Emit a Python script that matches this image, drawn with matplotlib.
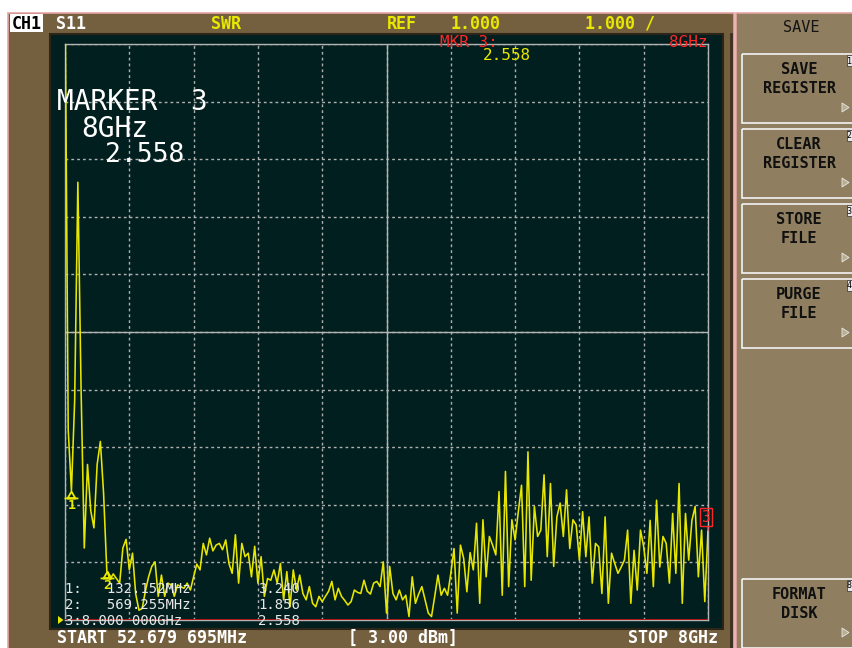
import numpy as np
import matplotlib.pyplot as plt
from matplotlib.patches import Rectangle, Polygon
from matplotlib.path import Path

# sweep setup
start_ghz = 0.052679695
stop_ghz = 8.0
n_points = 201
ref_swr = 1.0
swr_per_div = 1.0

# S11 SWR trace, one value per sweep point
swr = [
    12.0, 4.3, 3.24, 4.8, 8.6, 5.0, 2.25, 3.7, 2.9, 2.6, 3.7, 4.1, 3.2, 1.856,
    1.70, 1.80, 1.72, 1.64, 2.25, 2.40, 1.87,
    2.16, 1.45, 1.17, 1.20, 1.50, 1.75, 1.93, 2.01, 1.41, 1.78,
    1.41, 1.64, 1.61, 1.41, 1.61, 1.58, 1.55, 1.64, 1.52, 1.75,
    1.97, 1.87, 2.33, 2.13, 2.42, 2.20, 2.30, 2.33, 2.22, 2.39,
    1.98, 1.81, 2.48, 1.64, 2.33, 2.10, 2.16, 1.75, 2.28, 1.64,
    2.10, 1.41, 1.72, 1.69, 1.87, 1.64, 1.98, 1.35, 1.84, 1.23,
    1.87, 1.52, 1.78, 1.46, 1.35, 1.58, 1.29, 1.23, 1.41, 1.32,
    1.41, 1.50, 1.67, 1.35, 1.55, 1.41, 1.34, 1.26, 1.32, 1.52,
    1.48, 1.46, 1.69, 1.50, 1.45, 1.64, 1.67, 1.58, 2.01, 1.12,
    1.93, 1.46, 1.35, 1.52, 1.35, 1.43, 1.06, 1.75, 1.29, 1.45,
    1.58, 1.35, 1.12, 1.06, 1.41, 1.78, 1.43, 1.55, 1.43, 1.81,
    2.24, 1.12, 2.30, 2.07, 1.49, 2.17, 1.87, 2.68, 1.29, 2.74,
    1.75, 2.45, 2.30, 2.13, 3.23, 1.43, 3.58, 1.58, 2.74, 2.39,
    2.88, 3.34, 1.58, 3.92, 1.69, 2.97, 2.45, 2.56, 3.52, 2.10,
    3.37, 1.93, 2.79, 3.03, 2.45, 3.26, 2.24, 2.74, 2.65, 2.04,
    2.88, 2.10, 2.79, 1.64, 2.33, 2.27, 1.46, 2.79, 1.29, 2.16,
    1.98, 1.81, 1.92, 2.04, 2.56, 1.29, 2.21, 1.52, 2.56, 2.27,
    1.81, 2.73, 1.58, 3.08, 1.92, 2.45, 2.33, 1.64, 2.85, 1.81,
    3.37, 1.29, 2.85, 2.04, 2.73, 2.97, 1.75, 2.56, 1.32, 2.558,
]

marker_ids = [1, 2, 3]
marker_ghz = [0.132152, 0.569255, 8.0]
marker_swr = [3.240, 1.856, 2.558]
marker_freq_text = ['132.152MHz', '569.255MHz', '8.000 000GHz']

softkeys = ['SAVE\nREGISTER', 'CLEAR\nREGISTER', 'STORE\nFILE', 'PURGE\nFILE',
            '', '', '', 'FORMAT\nDISK']

freqs = np.linspace(start_ghz, stop_ghz, n_points)

frame_col = '#74603f'
panel_col = '#8f7f60'
screen_col = '#021f1f'
pink = '#e8a4a4'
yellow = '#e8e800'
red = '#ff2626'
grid_col = '#b0b0b0'
table_col = '#e8e8e8'
mono = 'DejaVu Sans Mono'

fig = plt.figure(figsize=(8.52, 6.48), dpi=100)
fig.patch.set_facecolor('white')

# pixel-coordinate layers behind and in front of the graticule
bg = fig.add_axes([0, 0, 1, 1], zorder=0)
fg = fig.add_axes([0, 0, 1, 1], zorder=2)
for a in (bg, fg):
    a.set_xlim(0, 852)
    a.set_ylim(648, 0)
    a.axis('off')

bg.add_patch(Rectangle((7.5, 12.5), 726.5, 640, fc=frame_col, ec=pink, lw=1.2))
bg.add_patch(Rectangle((735.5, 12.5), 120, 640, fc=panel_col, ec=pink, lw=1.2))
bg.add_patch(Rectangle((50, 34), 673, 595, fc=screen_col, ec='#2c2518', lw=1.5))
bg.plot([731, 731], [34, 648], color='#3c3020', lw=2)

# graticule and trace
ax = fig.add_axes([65 / 852, 28 / 648, 643 / 852, 576 / 648], zorder=1)
ax.set_facecolor('none')
ax.set_xlim(start_ghz, stop_ghz)
ax.set_ylim(ref_swr, ref_swr + 10 * swr_per_div)
ax.set_xticks(np.linspace(start_ghz, stop_ghz, 11))
ax.set_yticks(ref_swr + swr_per_div * np.arange(11))
ax.grid(True, color=grid_col, ls=(0, (2, 2.2)), lw=1.0)
ax.tick_params(length=0, labelbottom=False, labelleft=False)
for s in ax.spines.values():
    s.set_color('#b4b4b4')
    s.set_linewidth(1.0)
ax.axvline((start_ghz + stop_ghz) / 2, color='#b4b4b4', lw=1.0)
ax.axhline(ref_swr + 5 * swr_per_div, color='#b4b4b4', lw=1.0)

ax.plot(freqs, swr, color='#e6e600', lw=1.15, zorder=3)
ax.axhline(ref_swr, color='#b01818', lw=1.4, zorder=4)
bg.add_patch(Polygon([(58, 616), (58, 624), (63.5, 620)], closed=True, fc=yellow, ec='none'))

# marker symbols
tri = Path([(0, 0), (-4, -7), (4, -7), (0, 0), (-7, -7), (7, -7)],
           [Path.MOVETO, Path.LINETO, Path.LINETO, Path.LINETO, Path.MOVETO, Path.LINETO])
for mid, f, v in zip(marker_ids[:2], marker_ghz[:2], marker_swr[:2]):
    ax.plot(f, v, marker=tri, ms=10, mec=yellow, mfc='none', mew=1.3,
            clip_on=False, zorder=5)
    ax.annotate(str(mid), (f, v), xytext=(0, -10.5), textcoords='offset points',
                ha='center', va='center', color=yellow, fontsize=9.5,
                fontweight='bold', family=mono, annotation_clip=False, zorder=5)
ax.annotate(str(marker_ids[2]), (marker_ghz[2], marker_swr[2]), xytext=(-1.5, 9.5),
            textcoords='offset points', ha='center', va='center', color=red,
            fontsize=10.5, family=mono, annotation_clip=False, zorder=5,
            bbox=dict(boxstyle='square,pad=0.1', fc='none', ec=red, lw=1),
            arrowprops=dict(arrowstyle='-', color=red, lw=1, shrinkA=0, shrinkB=0))

# header line
fg.add_patch(Rectangle((10, 14), 33, 18, fc='white', ec='none'))
fg.text(26.5, 29, 'CH1', ha='center', va='baseline', color='black',
        fontsize=12, fontweight='bold', family=mono)
for txt, x, c in [('S11', 56, 'white'), ('SWR', 211, yellow), ('REF', 387, yellow),
                  (f'{ref_swr:.3f}', 451, yellow), (f'{swr_per_div:.3f} /', 585, yellow)]:
    fg.text(x, 29, txt, va='baseline', color=c, fontsize=12, fontweight='bold', family=mono)

# active marker readout
fg.text(440, 47, f'MKR {marker_ids[2]}:', va='baseline', color=red, fontsize=11.5, family=mono)
fg.text(707, 47, '8GHz', ha='right', va='baseline', color=red, fontsize=11.5, family=mono)
fg.text(483, 59.5, f'{marker_swr[2]:.3f}', va='baseline', color=yellow, fontsize=11.5, family=mono)

fg.text(57, 110, f'MARKER  {marker_ids[2]}', va='baseline', color='white', fontsize=20, family=mono)
fg.text(81, 137, '8GHz', va='baseline', color='white', fontsize=20, family=mono)
fg.text(105, 162, f'{marker_swr[2]:.3f}', va='baseline', color='white', fontsize=19, family=mono)

# marker table: one block for the frequencies, one for the readings
freq_lines = []
for mid, ftxt in zip(marker_ids, marker_freq_text):
    pad = 13 - len(ftxt) if len(ftxt) < 12 else 0
    freq_lines.append(f'{mid}:' + ' ' * pad + ftxt)
fg.text(65, 625, '\n'.join(freq_lines), va='baseline', color=table_col,
        fontsize=10, family=mono, linespacing=1.18)
fg.text(258, 625, '\n'.join(f'{v:.3f}' for v in marker_swr), va='baseline',
        color=table_col, fontsize=10, family=mono, linespacing=1.18)

# status line
fg.text(57, 643, 'START 52.679 695MHz', va='baseline', color='white',
        fontsize=12, fontweight='bold', family=mono)
fg.text(348, 643, '[ 3.00 dBm]', va='baseline', color='white',
        fontsize=12, fontweight='bold', family=mono)
fg.text(718, 643, 'STOP 8GHz', ha='right', va='baseline', color='white',
        fontsize=12, fontweight='bold', family=mono)

# softkey menu
fg.text(801, 32, 'SAVE', ha='center', va='baseline', color='#141414', fontsize=11, family=mono)
for k, label in enumerate(softkeys):
    if not label:
        continue
    top = 54 + 75 * k
    fg.add_patch(Rectangle((741.5, top), 120, 69, fill=False, ec='#f4f4f4', lw=1.2))
    for j, line in enumerate(label.split('\n')):
        fg.text(799, top + 20 + 19 * j, line, ha='center', va='baseline', color='#101010',
                fontsize=11, fontweight='bold', family=mono)
    fg.add_patch(Polygon([(842, top + 49), (842, top + 58), (849, top + 53.5)], closed=True,
                         fc='#b8ad90', ec='#e8e8e8', lw=0.6))
    fg.add_patch(Rectangle((847, top + 1), 8, 11, fc='#e8e8e8', ec='#303030', lw=0.5))
    fg.text(851.5, top + 9.5, str(k + 1), ha='right', va='baseline', color='black',
            fontsize=6, family=mono)

fig.savefig('out.png', dpi=100)
